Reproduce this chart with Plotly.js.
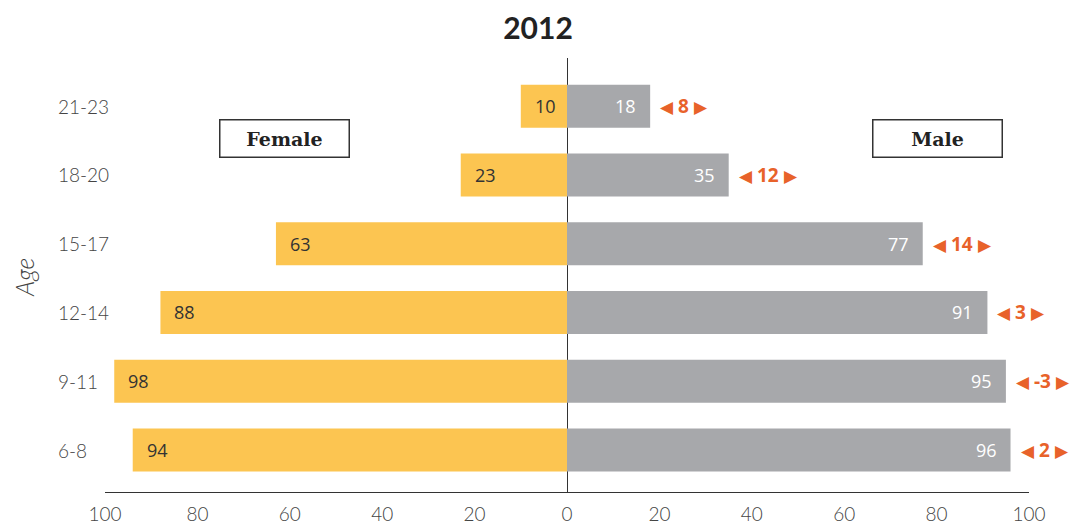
<!DOCTYPE html>
<html>
<head>
<meta charset="utf-8">
<script src="https://cdn.plot.ly/plotly-3.0.1.min.js"></script>
<style>html,body{margin:0;padding:0;background:#fff;}#chart{width:1076px;height:527px;}</style>
</head>
<body>
<div id="chart"></div>
<script>
const ages = ['6-8', '9-11', '12-14', '15-17', '18-20', '21-23'];
const female = [94, 98, 88, 63, 23, 10];
const male = [96, 95, 91, 77, 35, 18];
const diff = [2, -3, 3, 14, 12, 8];
const xTicks = [-100, -80, -60, -40, -20, 0, 20, 40, 60, 80, 100];
const xTickText = ['100', '80', '60', '40', '20', '0', '20', '40', '60', '80', '100'];

const YELLOW = '#FCC551';
const GRAY = '#A7A8AB';
const ORANGE = '#E8622A';

const traces = [
  {
    type: 'bar', orientation: 'h', name: 'Female',
    y: ages, x: female.map(v => -v),
    marker: {color: YELLOW}, hoverinfo: 'skip'
  },
  {
    type: 'bar', orientation: 'h', name: 'Male',
    y: ages, x: male,
    marker: {color: GRAY}, hoverinfo: 'skip'
  }
];

const annotations = [];
ages.forEach((a, i) => {
  annotations.push({
    xref: 'paper', yref: 'y', x: -0.053, y: a, xanchor: 'left', yanchor: 'middle',
    text: a, showarrow: false, font: {family: 'Lato', size: 19, weight: 300, color: '#444'}
  });
  annotations.push({
    xref: 'x', yref: 'y', x: -female[i], y: a, xanchor: 'left', yanchor: 'middle', xshift: 12,
    text: String(female[i]), showarrow: false, font: {family: 'Open Sans', size: 18, color: '#333'}
  });
  annotations.push({
    xref: 'x', yref: 'y', x: male[i], y: a, xanchor: 'right', yanchor: 'middle', xshift: -12,
    text: String(male[i]), showarrow: false, font: {family: 'Open Sans', size: 18, color: '#fff'}
  });
  annotations.push({
    xref: 'x', yref: 'y', x: male[i], y: a, xanchor: 'left', yanchor: 'middle', xshift: 8,
    text: '<span style="font-size:17px">◀</span> <b>' + diff[i] + '</b> <span style="font-size:17px">▶</span>',
    showarrow: false, font: {family: 'Open Sans', size: 19, color: ORANGE}
  });
});

annotations.push({
  xref: 'paper', yref: 'paper', x: (284 - 105) / 924, y: (492 - 138) / 434,
  xanchor: 'center', yanchor: 'middle', text: '<b>Female</b>', showarrow: false,
  font: {family: 'DejaVu Serif', size: 19, color: '#222'},
  bordercolor: '#333', borderwidth: 1.5, borderpad: 2, width: 124, height: 32, bgcolor: '#fff'
});
annotations.push({
  xref: 'paper', yref: 'paper', x: (937 - 105) / 924, y: (492 - 138) / 434,
  xanchor: 'center', yanchor: 'middle', text: '<b>Male</b>', showarrow: false,
  font: {family: 'DejaVu Serif', size: 19, color: '#222'},
  bordercolor: '#333', borderwidth: 1.5, borderpad: 2, width: 124, height: 32, bgcolor: '#fff'
});
annotations.push({
  xref: 'paper', yref: 'paper', x: (24 - 105) / 924, y: (492 - 278) / 434,
  xanchor: 'center', yanchor: 'middle', text: '<i>Age</i>', textangle: -90, showarrow: false,
  font: {family: 'Lato', size: 25, weight: 300, color: '#444'}
});

const layout = {
  width: 1076, height: 527,
  margin: {l: 105, r: 47, t: 58, b: 35},
  paper_bgcolor: '#fff', plot_bgcolor: '#fff',
  showlegend: false,
  barmode: 'relative', bargap: 0.375,
  title: {
    text: '<b>2012</b>', x: 0.5, xanchor: 'center', y: 1 - 28 / 527, yanchor: 'middle',
    font: {family: 'Lato', size: 30, color: '#222'}
  },
  xaxis: {
    range: [-100, 100], tickvals: xTicks, ticktext: xTickText,
    showgrid: false, zeroline: true, zerolinecolor: '#333', zerolinewidth: 1,
    showline: true, linecolor: '#333', linewidth: 1.2,
    ticks: 'outside', ticklen: 5, tickcolor: 'rgba(0,0,0,0)',
    tickfont: {family: 'Lato', size: 19, weight: 300, color: '#444'}, fixedrange: true
  },
  yaxis: {
    range: [-0.61, 5.70], showticklabels: false, showgrid: false, zeroline: false,
    showline: false, ticks: '', fixedrange: true
  },
  annotations: annotations
};

Plotly.newPlot('chart', traces, layout, {displayModeBar: false, staticPlot: true});
</script>
</body>
</html>
